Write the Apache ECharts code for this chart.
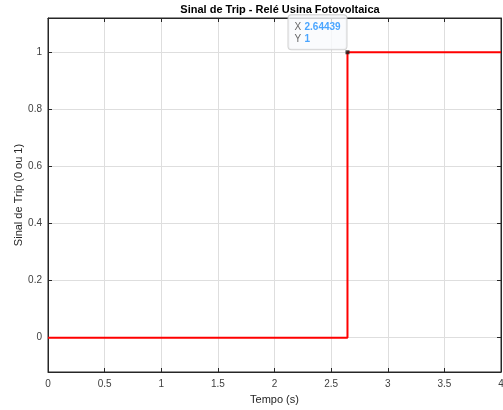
<!DOCTYPE html>
<html>
<head>
<meta charset="utf-8">
<script src="https://cdn.jsdelivr.net/npm/echarts@6/dist/echarts.min.js"></script>
<style>html,body{margin:0;padding:0;background:#fff;overflow:hidden;}#c{width:503px;height:410px;}</style>
</head>
<body>
<div id="c"></div>
<script>
// Data
const title = 'Sinal de Trip - Relé Usina Fotovoltaica';
const xName = 'Tempo (s)';
const yName = 'Sinal de Trip (0 ou 1)';
const tripTime = 2.64439;
const tempo = [0, tripTime, tripTime, 4];
const sinal = [0, 0, 1, 1];
const tipPoint = [tripTime, 1];
const xTicks = [0, 0.5, 1, 1.5, 2, 2.5, 3, 3.5, 4];
const yTicks = [0, 0.2, 0.4, 0.6, 0.8, 1];

const chart = echarts.init(document.getElementById('c'), null, {renderer: 'canvas', width: 503, height: 410});
const font = 'Liberation Sans, Arial, Helvetica, sans-serif';
const axisColor = '#404040';
const gridColor = '#dedede';

function fmt(v){ return String(v); }

const option = {
  animation: false,
  backgroundColor: '#ffffff',
  title: {
    text: title, left: 275, top: -1, textAlign: 'center',
    textStyle: {fontFamily: font, fontSize: 11, fontWeight: 'bold', color: '#000'}
  },
  grid: {left: 48, right: 2, top: 18, bottom: 38, show: true, borderColor: '#262626', borderWidth: 1,
         containLabel: false, outerBoundsMode: 'none'},
  xAxis: [{
    type: 'value', min: xTicks[0], max: xTicks[xTicks.length-1], interval: 0.5,
    name: xName, nameLocation: 'middle', nameGap: 22,
    nameTextStyle: {fontFamily: font, fontSize: 11, color: '#262626'},
    axisLine: {show: true, onZero: false, lineStyle: {color: '#262626', width: 1}},
    axisTick: {show: true, inside: true, length: 4, lineStyle: {color: '#262626'}},
    axisLabel: {fontFamily: font, fontSize: 10, color: axisColor, margin: 7, formatter: fmt, hideOverlap: false},
    splitLine: {show: true, lineStyle: {color: gridColor, width: 1}}
  }, {
    type: 'value', position: 'top', min: xTicks[0], max: xTicks[xTicks.length-1], interval: 0.5,
    axisLine: {show: true, onZero: false, lineStyle: {color: '#262626'}},
    axisTick: {show: true, inside: true, length: 4, lineStyle: {color: '#262626'}},
    axisLabel: {show: false}, splitLine: {show: false}
  }],
  yAxis: [{
    type: 'value', min: -0.12, max: 1.12, minInterval: 0.2, maxInterval: 0.2,
    name: yName, nameLocation: 'middle', nameGap: 24, nameMoveOverlap: false,
    nameTextStyle: {fontFamily: font, fontSize: 11, color: '#262626'},
    axisLine: {show: true, onZero: false, lineStyle: {color: '#262626', width: 1}},
    axisTick: {show: true, inside: true, length: 4, lineStyle: {color: '#262626'}},
    axisLabel: {fontFamily: font, fontSize: 10, color: axisColor, margin: 6, showMinLabel: false, showMaxLabel: false, formatter: fmt},
    splitLine: {show: true, lineStyle: {color: gridColor, width: 1}}
  }, {
    type: 'value', position: 'right', min: -0.12, max: 1.12, minInterval: 0.2, maxInterval: 0.2,
    axisLine: {show: true, onZero: false, lineStyle: {color: '#262626'}},
    axisTick: {show: true, inside: true, length: 4, lineStyle: {color: '#262626'}},
    axisLabel: {show: false}, splitLine: {show: false}
  }],
  series: [{
    type: 'line', xAxisIndex: 0, yAxisIndex: 0,
    data: tempo.map((t, i) => [t, sinal[i]]),
    showSymbol: false, symbol: 'none',
    lineStyle: {color: '#ff0000', width: 2},
    z: 3
  }, {
    type: 'scatter', xAxisIndex: 0, yAxisIndex: 0,
    data: [tipPoint], symbol: 'rect', symbolSize: 4,
    itemStyle: {color: '#1a1a1a'}, z: 5,
    label: {
      show: true, position: [0, 0], align: 'left', verticalAlign: 'bottom', offset: [-57, -1],
      width: 44,
      formatter: () => '{k|X} {v|' + tipPoint[0] + '}\n{k|Y} {v|' + tipPoint[1] + '}',
      backgroundColor: '#f9fafd', borderColor: '#c8c8c8', borderWidth: 1, borderRadius: 3,
      padding: [6, 8, 4, 6], lineHeight: 12,
      rich: {
        k: {fontFamily: font, fontSize: 10, color: '#404040', lineHeight: 12},
        v: {fontFamily: font, fontSize: 10, color: '#1e90ff', fontWeight: 'bold', lineHeight: 12}
      }
    }
  }]
};
chart.setOption(option);
</script>
</body>
</html>
